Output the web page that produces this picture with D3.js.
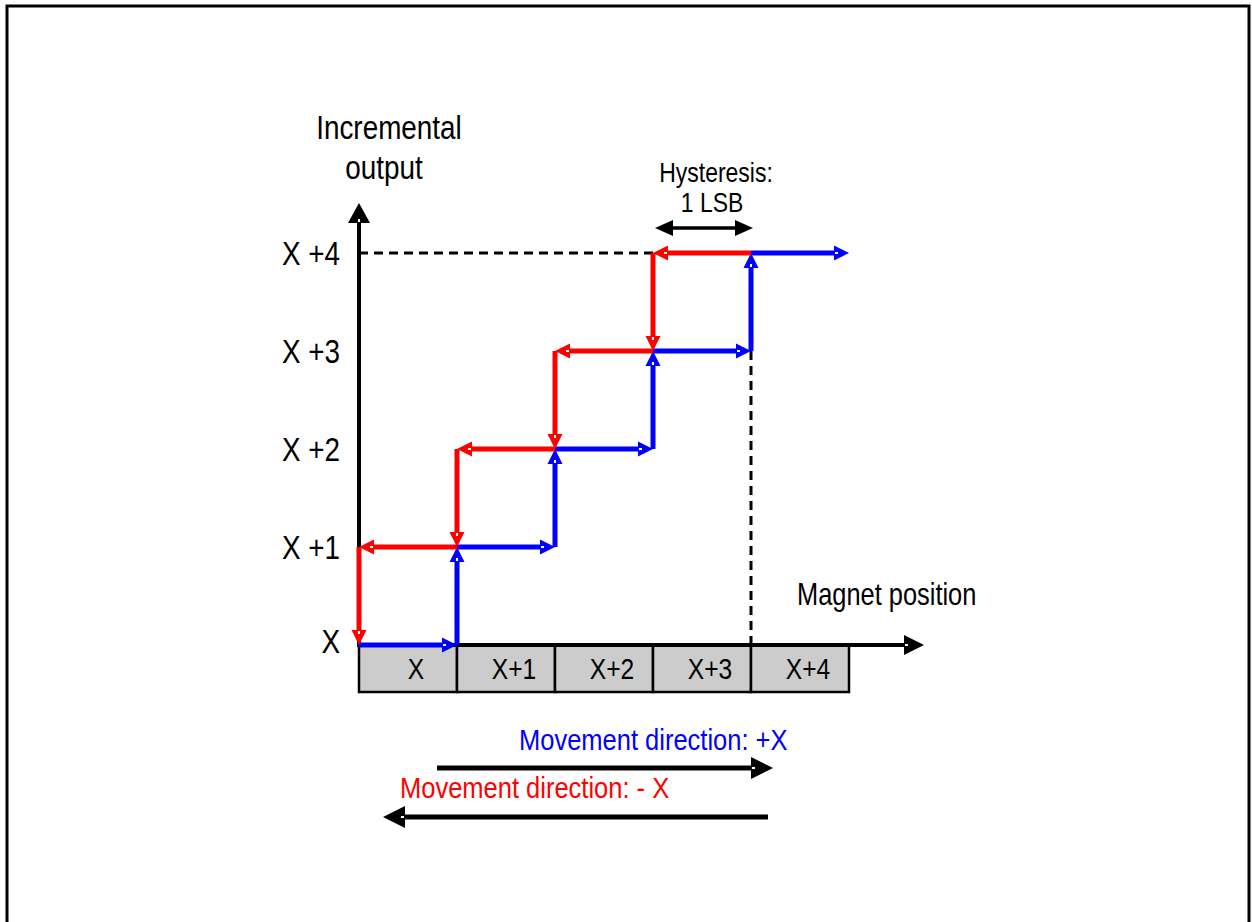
<!DOCTYPE html>
<html>
<head>
<meta charset="utf-8">
<script src="https://cdn.jsdelivr.net/npm/d3@7"></script>
<style>
  body { margin: 0; background: #fff; }
  text { font-family: "Liberation Sans Narrow", "Arial Narrow", "Liberation Sans", Arial, sans-serif; fill: #000; }
</style>
</head>
<body>
<svg width="1252" height="922"></svg>
<script>
// output levels (y) and magnet position cells (x)
var levels = ["X", "X +1", "X +2", "X +3", "X +4"];
var cells = ["X", "X+1", "X+2", "X+3", "X+4"];

// staircase vertices as [position, level]
var bluePath = [[0, 0], [1, 0], [1, 1], [2, 1], [2, 2], [3, 2], [3, 3], [4, 3], [4, 4], [5, 4]];
var redPath = [[4, 4], [3, 4], [3, 3], [2, 3], [2, 2], [1, 2], [1, 1], [0, 1], [0, 0]];

var hysteresis = [3, 4];        // 1 LSB span
var moveLabels = ["Movement direction: +X", "Movement direction: - X"];

var svg = d3.select("svg");
var SX = 0.82; // no narrow font installed, so squeeze horizontally

var x = d3.scaleLinear().domain([0, 5]).range([359, 849]);
var y = d3.scaleLinear().domain([0, 4]).range([645, 253]);

// frame
svg.append("rect")
	.attr("x", 7).attr("y", 6)
	.attr("width", 1242).attr("height", 940)
	.attr("fill", "none").attr("stroke", "#000").attr("stroke-width", 3);

function label(g, tx, ty, str, size, anchor, color, sx) {
	return g.append("text")
		.attr("transform", "translate(" + tx + "," + ty + ") scale(" + (sx || SX) + ",1)")
		.attr("text-anchor", anchor || "start")
		.attr("font-size", size)
		.style("fill", color || "#000")
		.text(str);
}

function arrowHead(g, x1, y1, x2, y2, len, w, color, dot) {
	var a = Math.atan2(y2 - y1, x2 - x1);
	var c = Math.cos(a), s = Math.sin(a);
	var bx = x2 - len * c, by = y2 - len * s;
	g.append("path")
		.attr("d", "M" + x2 + "," + y2 +
			"L" + (bx - w / 2 * s) + "," + (by + w / 2 * c) +
			"L" + (bx + w / 2 * s) + "," + (by - w / 2 * c) + "Z")
		.attr("fill", color);
	if (dot) {
		g.append("line")
			.attr("x1", bx + 1 * c).attr("y1", by + 1 * s)
			.attr("x2", bx + 4 * c).attr("y2", by + 4 * s)
			.attr("stroke", "#fff").attr("stroke-width", 2);
	}
}

function arrowLine(g, x1, y1, x2, y2, width, color, len, w, dot) {
	var a = Math.atan2(y2 - y1, x2 - x1);
	g.append("line")
		.attr("x1", x1).attr("y1", y1)
		.attr("x2", x2 - (len - 2) * Math.cos(a)).attr("y2", y2 - (len - 2) * Math.sin(a))
		.attr("stroke", color).attr("stroke-width", width);
	arrowHead(g, x1, y1, x2, y2, len, w, color, dot);
}

// cell boxes under the axis
var boxes = svg.append("g");
boxes.selectAll("rect")
	.data(cells)
	.enter().append("rect")
	.attr("x", function(d, i) { return x(i); })
	.attr("y", y(0))
	.attr("width", x(1) - x(0))
	.attr("height", 47)
	.attr("fill", "#cccccc")
	.attr("stroke", "#000")
	.attr("stroke-width", 2.5);
cells.forEach(function(d, i) {
	label(boxes, x(i + 0.5) + 8, y(0) + 34, d, 30, "middle");
});

// dashed guides
svg.append("line")
	.attr("x1", x(0)).attr("y1", y(4)).attr("x2", x(3)).attr("y2", y(4))
	.attr("stroke", "#000").attr("stroke-width", 3).attr("stroke-dasharray", "9,6");
svg.append("line")
	.attr("x1", x(4)).attr("y1", y(3)).attr("x2", x(4)).attr("y2", y(0))
	.attr("stroke", "#000").attr("stroke-width", 3).attr("stroke-dasharray", "9,6");

// axes
var axes = svg.append("g");
arrowLine(axes, x(0), y(0), 924, y(0), 4, "#000", 20, 20, true);
arrowLine(axes, x(0), y(0) + 2, x(0), 203, 4, "#000", 20, 22, true);

var yAxis = svg.append("g")
	.attr("transform", "translate(" + (x(0) - 19) + ",0)")
	.call(d3.axisLeft(y).tickValues(d3.range(levels.length)).tickSize(0).tickPadding(0)
		.tickFormat(function(d) { return levels[d]; }));
yAxis.select(".domain").remove();
yAxis.selectAll("text")
	.attr("font-size", 34)
	.attr("font-family", null)
	.attr("fill", "#000")
	.attr("x", 0)
	.attr("dy", "0.35em")
	.attr("transform", function(d) { return "translate(0," + (d === 0 ? -4 : 0) + ") scale(" + SX + ",1)"; });

// staircases
function stairs(path, color) {
	var g = svg.append("g");
	for (var i = 1; i < path.length; i++) {
		arrowLine(g, x(path[i - 1][0]), y(path[i - 1][1]), x(path[i][0]), y(path[i][1]), 5, color, 15, 15, true);
	}
}
stairs(bluePath, "#0000ff");
stairs(redPath, "#ff0000");

// axis titles
label(svg, 389, 139, "Incremental", 34, "middle");
label(svg, 384, 179, "output", 34, "middle");
label(svg, 797, 605, "Magnet position", 31, "start");

// hysteresis annotation
label(svg, 716, 182, "Hysteresis:", 28, "middle");
label(svg, 712, 212, "1 LSB", 28, "middle");
var hy = svg.append("g");
var hmid = (x(hysteresis[0]) + x(hysteresis[1])) / 2;
arrowLine(hy, hmid, 228, x(hysteresis[1]) + 2, 228, 3.5, "#000", 18, 16, false);
arrowLine(hy, hmid, 228, x(hysteresis[0]) + 2, 228, 3.5, "#000", 18, 16, false);

// movement directions
var mv = svg.append("g");
label(mv, 519, 750, moveLabels[0], 30, "start", "#0000ff", 0.85);
arrowLine(mv, 437, 768, 773, 768, 5, "#000", 22, 22, true);
label(mv, 400, 798, moveLabels[1], 30, "start", "#ff0000", 0.85);
arrowLine(mv, 768, 817, 383, 817, 5, "#000", 22, 22, true);
</script>
</body>
</html>
